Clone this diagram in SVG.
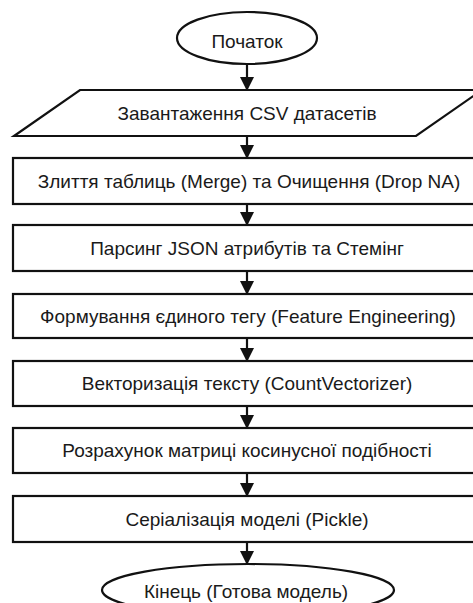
<svg xmlns="http://www.w3.org/2000/svg" width="473" height="603" viewBox="0 0 473 603">
  <style>
    .shape { fill: #ffffff; stroke: #111111; stroke-width: 2.2; }
    .label { font-family: "Liberation Sans", Arial, sans-serif; font-size: 19px; fill: #1a1a1a; text-anchor: middle; dominant-baseline: central; }
    .link { stroke: #111111; stroke-width: 2.2; fill: none; marker-end: url(#arrow); }
  </style>
  <defs>
    <marker id="arrow" viewBox="0 0 14 14" refX="13" refY="7" markerWidth="14" markerHeight="14" markerUnits="userSpaceOnUse" orient="auto">
      <path d="M0,0 L14,7 L0,14 Z" fill="#111111"/>
    </marker>
  </defs>
  <rect width="473" height="603" fill="#ffffff"/>

  <g id="connectors">
    <line class="link" x1="247" y1="64" x2="247" y2="90"/>
    <line class="link" x1="247" y1="136" x2="247" y2="158"/>
    <line class="link" x1="247" y1="204" x2="247" y2="225"/>
    <line class="link" x1="247" y1="271" x2="247" y2="294"/>
    <line class="link" x1="247" y1="338" x2="247" y2="361"/>
    <line class="link" x1="247" y1="406" x2="247" y2="428"/>
    <line class="link" x1="247" y1="473" x2="247" y2="496"/>
    <line class="link" x1="247" y1="542" x2="247" y2="564"/>
  </g>

  <g id="start">
    <ellipse class="shape" cx="247" cy="38" rx="70" ry="26"/>
    <text class="label" x="247" y="41">Початок</text>
  </g>

  <g id="load">
    <polygon class="shape" points="80,90 482,90 416,136 14,136"/>
    <text class="label" x="247" y="113">Завантаження CSV датасетів</text>
  </g>

  <g id="merge">
    <rect class="shape" x="13" y="158" width="470" height="46"/>
    <text class="label" x="249" y="181">Злиття таблиць (Merge) та Очищення (Drop NA)</text>
  </g>

  <g id="parse">
    <rect class="shape" x="13" y="225" width="470" height="46"/>
    <text class="label" x="247" y="248">Парсинг JSON атрибутів та Стемінг</text>
  </g>

  <g id="tag">
    <rect class="shape" x="13" y="294" width="470" height="44"/>
    <text class="label" x="248" y="316">Формування єдиного тегу (Feature Engineering)</text>
  </g>

  <g id="vectorize">
    <rect class="shape" x="13" y="361" width="470" height="45"/>
    <text class="label" x="247" y="383">Векторизація тексту (CountVectorizer)</text>
  </g>

  <g id="similarity">
    <rect class="shape" x="13" y="428" width="470" height="45"/>
    <text class="label" x="247" y="450">Розрахунок матриці косинусної подібності</text>
  </g>

  <g id="serialize">
    <rect class="shape" x="13" y="496" width="470" height="46"/>
    <text class="label" x="247" y="519">Серіалізація моделі (Pickle)</text>
  </g>

  <g id="end">
    <ellipse class="shape" cx="248" cy="590" rx="146" ry="26"/>
    <text class="label" x="246" y="591">Кінець (Готова модель)</text>
  </g>
</svg>
